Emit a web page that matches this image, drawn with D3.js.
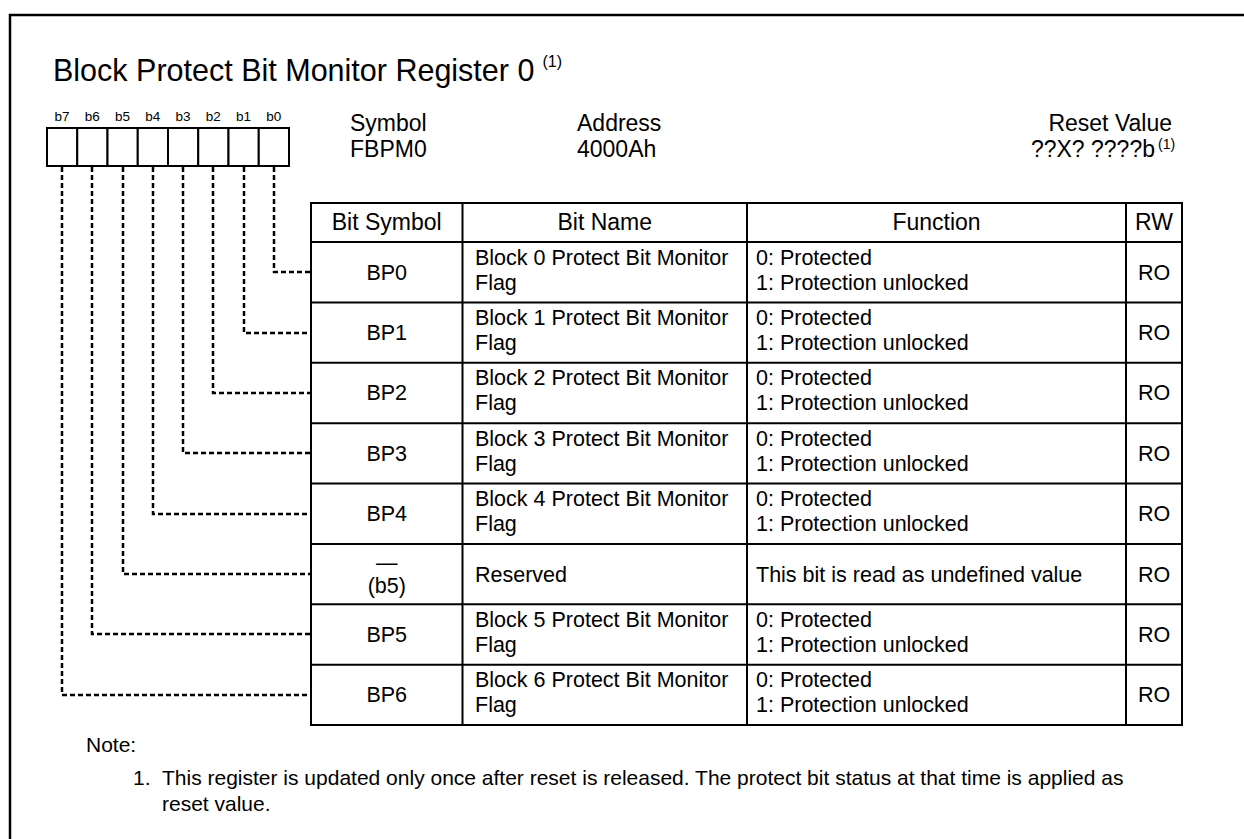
<!DOCTYPE html>
<html>
<head>
<meta charset="utf-8">
<script src="https://cdn.jsdelivr.net/npm/d3@7"></script>
<style>
  html, body { margin: 0; padding: 0; background: #fff; }
  svg { display: block; }
  text { font-family: Arial, "Liberation Sans", Helvetica, sans-serif; fill: #000; }
</style>
</head>
<body>
<svg id="chart" width="1244" height="839"></svg>
<script>
// ---------- data ----------
const title = "Block Protect Bit Monitor Register 0";
const bitLabels = ["b7", "b6", "b5", "b4", "b3", "b2", "b1", "b0"];
const rowBits = ["b0", "b1", "b2", "b3", "b4", "b5", "b6", "b7"];
const bitSymbols = [["BP0"], ["BP1"], ["BP2"], ["BP3"], ["BP4"], ["\u2014", "(b5)"], ["BP5"], ["BP6"]];
const bitNames = [
  ["Block 0 Protect Bit Monitor", "Flag"],
  ["Block 1 Protect Bit Monitor", "Flag"],
  ["Block 2 Protect Bit Monitor", "Flag"],
  ["Block 3 Protect Bit Monitor", "Flag"],
  ["Block 4 Protect Bit Monitor", "Flag"],
  ["Reserved"],
  ["Block 5 Protect Bit Monitor", "Flag"],
  ["Block 6 Protect Bit Monitor", "Flag"]
];
const functions = [
  ["0: Protected", "1: Protection unlocked"],
  ["0: Protected", "1: Protection unlocked"],
  ["0: Protected", "1: Protection unlocked"],
  ["0: Protected", "1: Protection unlocked"],
  ["0: Protected", "1: Protection unlocked"],
  ["This bit is read as undefined value"],
  ["0: Protected", "1: Protection unlocked"],
  ["0: Protected", "1: Protection unlocked"]
];
const rwValues = ["RO", "RO", "RO", "RO", "RO", "RO", "RO", "RO"];
const headers = ["Bit Symbol", "Bit Name", "Function", "RW"];
const columns = ["sym", "name", "func", "rw"];
const infoLabels = ["Symbol", "Address"];
const infoValues = ["FBPM0", "4000Ah"];
const resetLabel = "Reset Value";
const resetValue = "??X? ????b";
const noteMark = "(1)";
const noteTitle = "Note:";
const noteNumber = "1.";
const noteLines = ["This register is updated only once after reset is released. The protect bit status at that time is applied as", "reset value."];

// ---------- layout ----------
const svg = d3.select("#chart");
const W = 1244, H = 839;

// outer frame (left + top)
svg.append("path")
  .attr("d", `M10,${H} L10,15 L${W},15`)
  .attr("fill", "none").attr("stroke", "#000").attr("stroke-width", 2.5);

// title
const t = svg.append("text").attr("x", 53).attr("y", 81).attr("font-size", 30.5).text(title);
const tEnd = 53 + t.node().getComputedTextLength();
svg.append("text").attr("x", tEnd + 8).attr("y", 67).attr("font-size", 16).text(noteMark);

// bit boxes
const xBit = d3.scaleBand().domain(bitLabels).range([47, 289]);
const boxTop = 128, boxBottom = 166;
svg.append("g").selectAll("rect").data(bitLabels).join("rect")
  .attr("x", d => xBit(d)).attr("y", boxTop)
  .attr("width", xBit.bandwidth()).attr("height", boxBottom - boxTop)
  .attr("fill", "#fff").attr("stroke", "#000").attr("stroke-width", 2);
svg.append("g").selectAll("text").data(bitLabels).join("text")
  .attr("x", d => xBit(d) + xBit.bandwidth() / 2).attr("y", 121)
  .attr("text-anchor", "middle").attr("font-size", 13.5).text(d => d);

// info
const infoFs = 23;
const xInfo = d3.scalePoint().domain(infoLabels).range([350, 577]);
svg.append("g").selectAll("text").data(infoLabels).join("text")
  .attr("x", d => xInfo(d)).attr("y", 131).attr("font-size", infoFs).text(d => d);
svg.append("g").selectAll("text").data(infoValues).join("text")
  .attr("x", (d, i) => xInfo(infoLabels[i])).attr("y", 157).attr("font-size", infoFs).text(d => d);
svg.append("text").attr("x", 1172).attr("y", 131).attr("text-anchor", "end").attr("font-size", infoFs).text(resetLabel);
svg.append("text").attr("x", 1155).attr("y", 157).attr("text-anchor", "end").attr("font-size", infoFs).text(resetValue);
svg.append("text").attr("x", 1158).attr("y", 149).attr("font-size", 14).text(noteMark);

// table
const colEdges = [311, 462.5, 747, 1126, 1182];
const xCol = d3.scaleOrdinal().domain(columns).range(colEdges.slice(0, 4));
const colW = c => colEdges[columns.indexOf(c) + 1] - colEdges[columns.indexOf(c)];
const tableTop = 203, headBottom = 242, tableBottom = 725;
const yRow = d3.scaleBand().domain(d3.range(8)).range([headBottom, tableBottom]);

const g = svg.append("g");
const hLines = [tableTop, headBottom].concat(d3.range(8).map(i => yRow(i) + yRow.bandwidth()));
g.selectAll("line.h").data(hLines).join("line").attr("class", "h")
  .attr("x1", colEdges[0] - 1).attr("x2", colEdges[4] + 1).attr("y1", d => d).attr("y2", d => d)
  .attr("stroke", "#000").attr("stroke-width", 2);
g.selectAll("line.v").data(colEdges).join("line").attr("class", "v")
  .attr("x1", d => d).attr("x2", d => d).attr("y1", tableTop).attr("y2", tableBottom)
  .attr("stroke", "#000").attr("stroke-width", 2);

// headers
g.selectAll("text.hd").data(headers).join("text").attr("class", "hd")
  .attr("x", (d, i) => xCol(columns[i]) + colW(columns[i]) / 2)
  .attr("y", 230)
  .attr("text-anchor", "middle").attr("font-size", 23).text(d => d);

const fs = 21.5;
function multi(sel, lines, x, yc, anchor) {
  if (lines.length === 1) {
    sel.append("text").attr("x", x).attr("y", yc + 7.5)
      .attr("text-anchor", anchor).attr("font-size", fs).text(lines[0]);
  } else {
    sel.append("text").attr("x", x).attr("y", yc - 7.5)
      .attr("text-anchor", anchor).attr("font-size", fs).text(lines[0]);
    sel.append("text").attr("x", x).attr("y", yc + 17.5)
      .attr("text-anchor", anchor).attr("font-size", fs).text(lines[1]);
  }
}
d3.range(8).forEach(i => {
  const yc = yRow(i) + yRow.bandwidth() / 2;
  const cell = g.append("g");
  const xs = xCol("sym") + colW("sym") / 2;
  if (bitSymbols[i].length === 2) {
    cell.append("text").attr("x", xs).attr("y", yc - 4)
      .attr("text-anchor", "middle").attr("font-size", fs).text(bitSymbols[i][0]);
    cell.append("text").attr("x", xs).attr("y", yc + 18.5)
      .attr("text-anchor", "middle").attr("font-size", fs).text(bitSymbols[i][1]);
  } else {
    multi(cell, bitSymbols[i], xs, yc, "middle");
  }
  multi(cell, bitNames[i], xCol("name") + 12.5, yc, "start");
  multi(cell, functions[i], xCol("func") + 9, yc, "start");
  multi(cell, [rwValues[i]], xCol("rw") + colW("rw") / 2, yc, "middle");
});

// dashed connectors
const conn = svg.append("g");
rowBits.forEach((b, i) => {
  const x = Math.round(xBit(b) + xBit.bandwidth() / 2);
  const y = Math.round(yRow(i) + yRow.bandwidth() / 2);
  conn.append("path")
    .attr("d", `M${x},${boxBottom + 1} L${x},${y} L${colEdges[0]},${y}`)
    .attr("fill", "none").attr("stroke", "#000").attr("stroke-width", 2.5)
    .attr("stroke-dasharray", "5,3");
});

// note
svg.append("text").attr("x", 86).attr("y", 752).attr("font-size", 21).text(noteTitle);
svg.append("text").attr("x", 133).attr("y", 785).attr("font-size", 21).text(noteNumber);
svg.append("text").attr("x", 162).attr("y", 785).attr("font-size", 21).text(noteLines[0]);
svg.append("text").attr("x", 162).attr("y", 811).attr("font-size", 21).text(noteLines[1]);
</script>
</body>
</html>
